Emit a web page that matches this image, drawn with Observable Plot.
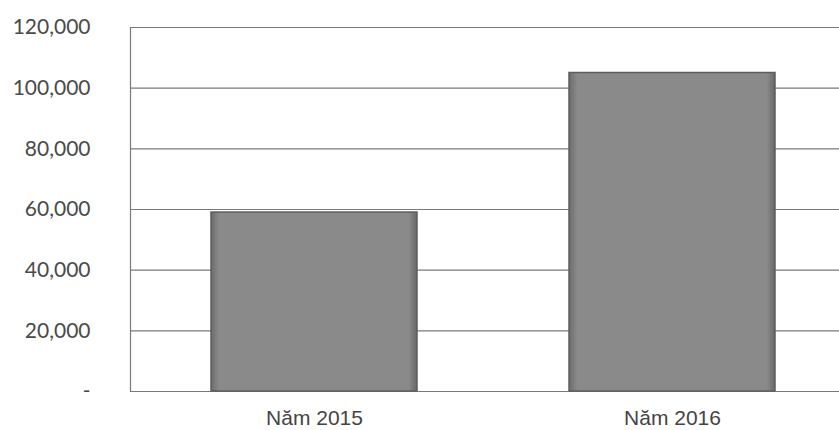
<!DOCTYPE html>
<html>
<head>
<meta charset="utf-8">
<script src="https://cdn.jsdelivr.net/npm/d3@7"></script>
<script src="https://cdn.jsdelivr.net/npm/@observablehq/plot@0.6"></script>
<style>
  html, body { margin: 0; padding: 0; background: #ffffff; }
  #chart svg { display: block; }
</style>
</head>
<body>
<div id="chart"></div>
<script>
const categories = ["Năm 2015", "Năm 2016"];
const values = [59000, 105000];
const yTicks = [0, 20000, 40000, 60000, 80000, 100000, 120000];

const data = categories.map((c, i) => ({category: c, value: values[i]}));
const fmt = d3.format(",");

const chart = Plot.plot({
  width: 839,
  height: 430,
  marginLeft: 130,
  marginRight: 0,
  marginTop: 27,
  marginBottom: 39,
  style: {background: "#ffffff", overflow: "visible"},
  x: {domain: categories, range: [135, 851], paddingInner: 0.425, paddingOuter: 0.2125, label: null},
  y: {domain: [0, 120000], label: null},
  marks: [
    Plot.ruleY(yTicks, {stroke: "#7a7a7a", strokeWidth: 1.2}),
    Plot.frame({anchor: "left", stroke: "#7a7a7a", strokeWidth: 1.2}),
    Plot.barY(data, {x: "category", y: "value", fill: "url(#barGrad)", stroke: "#5e5e5e", strokeWidth: 1.5}),
    Plot.axisY({ticks: yTicks, tickSize: 0, tickPadding: 40, tickFormat: d => d === 0 ? "-" : fmt(d),
      fontSize: 21, fontFamily: "Lato", fill: "#4a4a4a", label: null}),
    Plot.axisX({tickSize: 0, tickPadding: 19, fontSize: 21, fontFamily: "Liberation Sans", fill: "#444", label: null})
  ]
});

const ns = "http://www.w3.org/2000/svg";
const defs = document.createElementNS(ns, "defs");
defs.innerHTML = `
  <linearGradient id="barGrad" x1="0" y1="0" x2="1" y2="0">
    <stop offset="0" stop-color="#6c6c6c"/>
    <stop offset="0.04" stop-color="#8a8a8a"/>
    <stop offset="0.96" stop-color="#8a8a8a"/>
    <stop offset="1" stop-color="#686868"/>
  </linearGradient>`;
chart.insertBefore(defs, chart.firstChild);
document.getElementById("chart").appendChild(chart);
</script>
</body>
</html>
